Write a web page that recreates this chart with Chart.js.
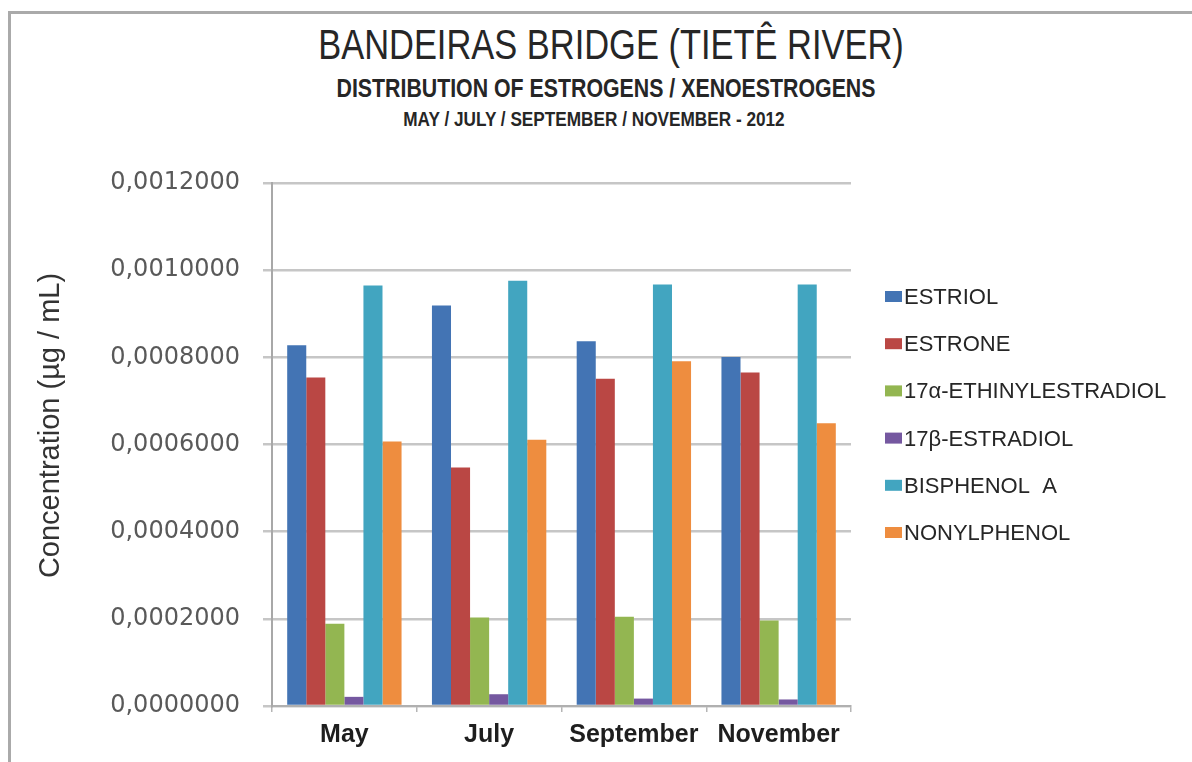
<!DOCTYPE html>
<html lang="en">
<head>
<meta charset="UTF-8">
<title>Bandeiras Bridge (Tietê River)</title>
<script src="https://cdn.jsdelivr.net/npm/chart.js"></script>
<style>
  html, body { margin: 0; padding: 0; background: #fff; }
  .wrap { position: relative; width: 1192px; height: 762px; overflow: hidden; }
  .frame { position: absolute; left: 8px; top: 11px; right: -10px; bottom: -10px;
           border-top: 3px solid #aaaaaa; border-left: 3px solid #aaaaaa; }
  .heading { position: absolute; width: 1192px; text-align: center; line-height: 1;
             color: #262626; white-space: nowrap; transform-origin: 50% 50%;
             font-family: "Liberation Sans", Arial, sans-serif; }
  /* condensed headings */
  .h1 { left: 15px; top: 24px; font-size: 42px; transform: scaleX(0.82); }
  .h2 { left: 10px; top: 75px; font-size: 26px; font-weight: bold; transform: scaleX(0.82); }
  .h3 { left: -2px; top: 109px; font-size: 20px; font-weight: bold; transform: scaleX(0.86); }
  canvas { position: absolute; left: 0; top: 0; }
</style>
</head>
<body>
<div class="wrap">
  <div class="frame"></div>
  <div class="heading h1">BANDEIRAS BRIDGE (TIETÊ RIVER)</div>
  <div class="heading h2">DISTRIBUTION OF ESTROGENS / XENOESTROGENS</div>
  <div class="heading h3">MAY / JULY / SEPTEMBER / NOVEMBER - 2012</div>
  <canvas id="chart" width="1192" height="762"></canvas>
</div>

<script>
    // sampling months and measured concentrations (µg / mL)
    const months = ['May', 'July', 'September', 'November'];
    const estriol = [0.000828, 0.000919, 0.000837, 0.000801];
    const estrone = [0.000754, 0.000547, 0.000751, 0.000765];
    const ethinylestradiol = [0.000189, 0.000203, 0.000205, 0.000196];
    const estradiol = [0.000021, 0.000027, 0.000017, 0.000015];
    const bisphenolA = [0.000965, 0.000976, 0.000967, 0.000967];
    const nonylphenol = [0.000607, 0.000611, 0.000791, 0.000649];

    const seriesNames = ['ESTRIOL', 'ESTRONE', '17α-ETHINYLESTRADIOL', '17β-ESTRADIOL', 'BISPHENOL  A', 'NONYLPHENOL'];
    const seriesValues = [estriol, estrone, ethinylestradiol, estradiol, bisphenolA, nonylphenol];
    const seriesColors = ['#4374B4', '#BA4744', '#93B651', '#7558A0', '#42A5C0', '#EE8D3F'];

    const yMax = 0.0012;
    const yStep = 0.0002;
    const yTitle = 'Concentration (µg / mL)';

    // legend drawn as a column of small swatches to the right of the plot
    const sideLegend = {
        id: 'sideLegend',
        afterDraw(chart) {
            const ctx = chart.ctx;
            const x = chart.chartArea.right + 34;
            ctx.save();
            ctx.font = '22px "Liberation Sans", Arial, sans-serif';
            ctx.textBaseline = 'middle';
            chart.data.datasets.forEach((ds, i) => {
                const y = 297 + i * 47.2;
                ctx.fillStyle = ds.backgroundColor;
                ctx.fillRect(x, y - 6, 17, 11);
                ctx.fillStyle = '#262626';
                ctx.fillText(ds.label, x + 19, y + 1);
            });
            ctx.restore();
        }
    };

    // rotated axis title, sitting a little above the middle of the value axis
    const axisTitle = {
        id: 'axisTitle',
        afterDraw(chart) {
            const ctx = chart.ctx;
            const area = chart.chartArea;
            ctx.save();
            ctx.translate(51, (area.top + area.bottom) / 2 - 19);
            ctx.rotate(-Math.PI / 2);
            ctx.font = '29px "Liberation Sans", Arial, sans-serif';
            ctx.fillStyle = '#333';
            ctx.textAlign = 'center';
            ctx.textBaseline = 'middle';
            ctx.fillText(yTitle, 0, 0);
            ctx.restore();
        }
    };

    const ctx = document.getElementById('chart').getContext('2d');
    new Chart(ctx, {
        type: 'bar',
        data: {
            labels: months,
            datasets: seriesNames.map((name, i) => ({
                label: name,
                data: seriesValues[i],
                backgroundColor: seriesColors[i],
                borderWidth: 0,
                categoryPercentage: 0.79,
                barPercentage: 1.0
            }))
        },
        options: {
            responsive: false,
            animation: false,
            devicePixelRatio: 1,
            layout: {
                padding: { left: 36, right: 341, top: 183, bottom: 4 }
            },
            scales: {
                x: {
                    grid: {
                        offset: true,
                        drawOnChartArea: false,
                        drawTicks: true,
                        tickLength: 6,
                        color: '#b5b5b5',
                        lineWidth: 1.5
                    },
                    border: { color: '#b0b0b0', width: 2 },
                    ticks: {
                        padding: 8,
                        autoSkip: false,
                        maxRotation: 0,
                        minRotation: 0,
                        color: '#1e1e1e',
                        font: { family: '"Liberation Sans", Arial, sans-serif', size: 25, weight: 'bold' }
                    }
                },
                y: {
                    min: 0,
                    max: yMax,
                    afterFit(scale) { scale.width = 236; },
                    grid: {
                        color: '#c6c6c6',
                        lineWidth: 2.5,
                        tickLength: 9
                    },
                    border: { color: '#a8a8a8', width: 2 },
                    ticks: {
                        stepSize: yStep,
                        padding: 23,
                        color: '#595959',
                        font: { family: '"DejaVu Sans", Verdana, sans-serif', size: 24 },
                        callback: v => v.toFixed(7).replace('.', ',')
                    }
                }
            },
            plugins: {
                legend: { display: false },
                tooltip: { enabled: false }
            }
        },
        plugins: [sideLegend, axisTitle]
    });
</script>
</body>
</html>
